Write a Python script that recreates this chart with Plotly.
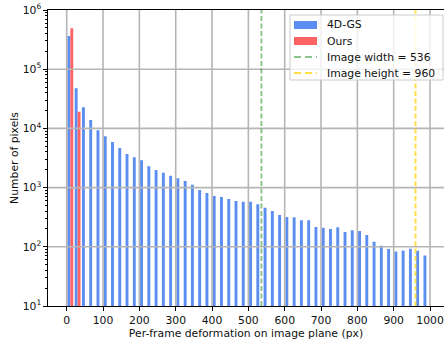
import plotly.graph_objects as go

# ---- data ----
bin_edges = list(range(0, 1001, 20))
bin_centers = [(bin_edges[i] + bin_edges[i + 1]) / 2 for i in range(len(bin_edges) - 1)]

gs4d_counts = [364000, 47600, 22700, 13900, 9300, 7400, 5900, 4670, 3700, 3250,
               2890, 2290, 1980, 1790, 1590, 1440, 1290, 1120, 912, 811,
               721, 693, 641, 594, 578, 578, 522, 458, 403, 345,
               319, 315, 280, 280, 216, 210, 200, 213, 178, 190,
               185, 158, 122, 104, 92, 83, 87, 93, 86, 71]
ours_counts = [490000, 19200] + [None] * 48

image_width = 536
image_height = 960

series_names = ["4D-GS", "Ours", f"Image width = {image_width}", f"Image height = {image_height}"]

x_tick_vals = list(range(0, 1001, 100))
y_tick_vals = [10, 100, 1000, 10000, 100000, 1000000]
y_tick_text = ["10<sup>1</sup>", "10<sup>2</sup>", "10<sup>3</sup>",
               "10<sup>4</sup>", "10<sup>5</sup>", "10<sup>6</sup>"]

blue = "#5b8ef0"
red = "#ff6464"
green = "rgba(0,128,0,0.45)"
gold = "rgba(255,210,0,0.7)"
grid_col = "#b5b5b5"
font = "DejaVu Sans"
FS = 10.8

W, H = 444, 344
ML, MR, MT, MB = 48, 0, 10, 38
PW, PH = W - ML - MR, H - MT - MB


def px(xp):
    return (xp - ML) / PW


def py(yp):
    return (H - MB - yp) / PH


fig = go.Figure()
fig.add_trace(go.Bar(x=bin_centers, y=gs4d_counts, name=series_names[0], width=8, offset=-8,
                     marker=dict(color=blue, line=dict(width=0)), showlegend=False))
fig.add_trace(go.Bar(x=bin_centers, y=ours_counts, name=series_names[1], width=8, offset=0,
                     marker=dict(color=red, line=dict(width=0)), showlegend=False))

shapes = []
for xv in x_tick_vals:
    shapes.append(dict(type="line", xref="x", yref="paper", x0=xv, x1=xv, y0=0, y1=1,
                       line=dict(color=grid_col, width=1.6), layer="above"))
for yv in y_tick_vals[1:-1]:
    shapes.append(dict(type="line", xref="paper", yref="y", x0=0, x1=1, y0=yv, y1=yv,
                       line=dict(color=grid_col, width=1.6), layer="above"))
shapes.append(dict(type="line", xref="x", yref="paper", x0=image_width, x1=image_width,
                   y0=0, y1=1, line=dict(color=green, width=2, dash="5px,2.5px"), layer="above"))
shapes.append(dict(type="line", xref="x", yref="paper", x0=image_height, x1=image_height,
                   y0=0, y1=1, line=dict(color=gold, width=2, dash="5px,2.5px"), layer="above"))

# ---- legend (drawn manually, matplotlib style) ----
shapes.append(dict(type="rect", xref="paper", yref="paper",
                   x0=px(290), x1=px(443), y0=py(80), y1=py(15),
                   line=dict(color="#cccccc", width=1), fillcolor="rgba(255,255,255,0.8)",
                   layer="above"))
row_y = [25, 41, 57, 73]
shapes.append(dict(type="rect", xref="paper", yref="paper", x0=px(294), x1=px(317),
                   y0=py(row_y[0] + 4), y1=py(row_y[0] - 4), fillcolor=blue,
                   line=dict(width=0), layer="above"))
shapes.append(dict(type="rect", xref="paper", yref="paper", x0=px(294), x1=px(317),
                   y0=py(row_y[1] + 4), y1=py(row_y[1] - 4), fillcolor=red,
                   line=dict(width=0), layer="above"))
shapes.append(dict(type="line", xref="paper", yref="paper", x0=px(294), x1=px(317),
                   y0=py(row_y[2]), y1=py(row_y[2]),
                   line=dict(color=green, width=2, dash="7px,4px"), layer="above"))
shapes.append(dict(type="line", xref="paper", yref="paper", x0=px(294), x1=px(317),
                   y0=py(row_y[3]), y1=py(row_y[3]),
                   line=dict(color=gold, width=2, dash="7px,4px"), layer="above"))
annotations = []
for name, yr in zip(series_names, row_y):
    annotations.append(dict(text=name, xref="paper", yref="paper", x=px(325), y=py(yr),
                            xanchor="left", yanchor="middle", showarrow=False,
                            font=dict(size=FS, color="#111", family=font)))

fig.update_layout(
    width=W, height=H,
    margin=dict(l=ML, r=MR, t=MT, b=MB),
    plot_bgcolor="white", paper_bgcolor="white",
    barmode="overlay",
    font=dict(family=font, size=FS, color="#111"),
    showlegend=False,
    shapes=shapes, annotations=annotations,
    xaxis=dict(range=[-51.5, 1038.5], tickvals=x_tick_vals, showgrid=False, zeroline=False,
               automargin=False,
               showline=True, linecolor="black", linewidth=1.3, mirror=True,
               ticks="outside", ticklen=3.5, tickwidth=1, tickcolor="black",
               tickfont=dict(size=FS),
               title=dict(text="Per-frame deformation on image plane (px)", standoff=3,
                          font=dict(size=FS))),
    yaxis=dict(type="log", range=[1, 6], tickvals=y_tick_vals, ticktext=y_tick_text,
               showgrid=False, zeroline=False, automargin=False,
               showline=True, linecolor="black", linewidth=1.3,
               ticks="outside", ticklen=3.5, tickwidth=1, tickcolor="black",
               tickfont=dict(size=FS),
               minor=dict(ticks="outside", ticklen=2, tickwidth=0.8, tickcolor="black",
                          dtick="D1", showgrid=False),
               title=dict(text="Number of pixels", standoff=1, font=dict(size=FS))),
)

fig.write_html("out.html", config={"displayModeBar": False},
               post_script="document.body.style.margin='0px';document.body.style.overflow='hidden';")
